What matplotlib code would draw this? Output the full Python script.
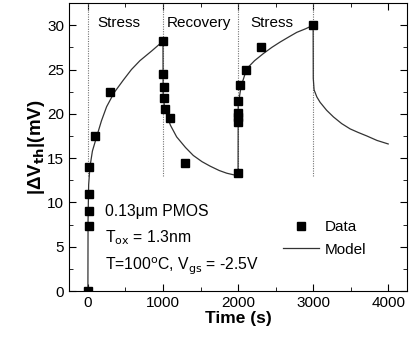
import matplotlib
matplotlib.use("Agg")
import matplotlib.pyplot as plt
from matplotlib.ticker import MultipleLocator

plt.rcParams["font.family"] = ["Liberation Sans", "DejaVu Sans"]

# measured data
data_t = [0, 10, 10, 10, 20, 100, 300,
          1000, 1005, 1010, 1020, 1030, 1100, 1300,
          2000, 2005, 2005, 2005, 2005, 2020, 2100, 2300, 3000]
data_v = [0, 7.3, 9.0, 11.0, 14.0, 17.5, 22.5,
          28.2, 24.5, 23.0, 21.8, 20.6, 19.5, 14.5,
          13.3, 19.1, 19.6, 20.1, 21.5, 23.2, 25.0, 27.5, 30.0]

# model curve
model_t = [0, 2, 10, 27, 60, 116, 180, 249, 350, 471, 580, 693, 850, 1000,
           1002, 1027, 1100, 1182, 1300, 1404, 1520, 1627, 1750, 1849, 2000,
           2002, 2040, 2116, 2220, 2337, 2450, 2560, 2680, 2783, 2900, 3000,
           3002, 3013, 3050, 3093, 3180, 3271, 3380, 3493, 3600, 3716, 3850, 4000]
model_v = [0, 8.0, 12.0, 14.0, 15.8, 17.4, 19.2, 20.8, 22.4, 23.8, 25.0, 26.0, 27.1, 28.2,
           22.0, 20.4, 18.7, 17.4, 16.2, 15.3, 14.6, 14.1, 13.6, 13.3, 13.0,
           21.0, 23.1, 25.1, 26.0, 26.8, 27.5, 28.1, 28.7, 29.2, 29.6, 30.0,
           24.0, 22.7, 21.9, 21.3, 20.4, 19.65, 18.9, 18.3, 17.9, 17.5, 17.0, 16.6]

phase_edges = [0, 1000, 2000, 3000]
phase_labels = ["Stress", "Recovery", "Stress"]
phase_label_x = [120, 1053, 2160]

fig = plt.figure(figsize=(4.14, 3.42), dpi=100)
ax = fig.add_axes([0.167, 0.149, 0.816, 0.842])

for xe in phase_edges:
    ax.vlines(xe, 13, 32.5, colors="0.45", linestyles=(0, (1, 1.2)), linewidth=0.8)

ax.plot(model_t, model_v, "-", color="0.2", linewidth=0.9, label="Model")
ax.plot(data_t, data_v, "s", color="black", markersize=5.2, linestyle="none", label="Data")

for lbl, xl in zip(phase_labels, phase_label_x):
    ax.text(xl, 30.2, lbl, fontsize=11, ha="left", va="center")

ax.text(227, 9.0, "0.13μm PMOS", fontsize=11.3, va="center")
ax.text(227, 6.0, "T$_{\\rm ox}$ = 1.3nm", fontsize=11.3, va="center")
ax.text(227, 2.8, "T=100$^{\\rm o}$C, V$_{\\rm gs}$ = -2.5V", fontsize=11.3, va="center")

handles, labels = ax.get_legend_handles_labels()
ax.legend(handles[::-1], labels[::-1], loc="lower right", bbox_to_anchor=(0.92, 0.071),
          frameon=False, fontsize=11, handlelength=2.3, handletextpad=0.4,
          labelspacing=0.56)

ax.set_xlim(-250, 4250)
ax.set_ylim(0, 32.5)
ax.set_xticks([0, 1000, 2000, 3000, 4000])
ax.set_yticks([0, 5, 10, 15, 20, 25, 30])
ax.xaxis.set_minor_locator(MultipleLocator(500))
ax.yaxis.set_minor_locator(MultipleLocator(2.5))
ax.tick_params(which="both", direction="in", top=True, right=True, labelsize=11)
ax.tick_params(which="major", length=5)
ax.tick_params(which="minor", length=3)
ax.set_xlabel("Time (s)", fontsize=12.5, fontweight="bold", labelpad=1)
ax.set_ylabel("|ΔV$_{\\bf th}$|(mV)", fontsize=13.5, fontweight="bold", labelpad=0)

fig.savefig("out.png", dpi=100)
